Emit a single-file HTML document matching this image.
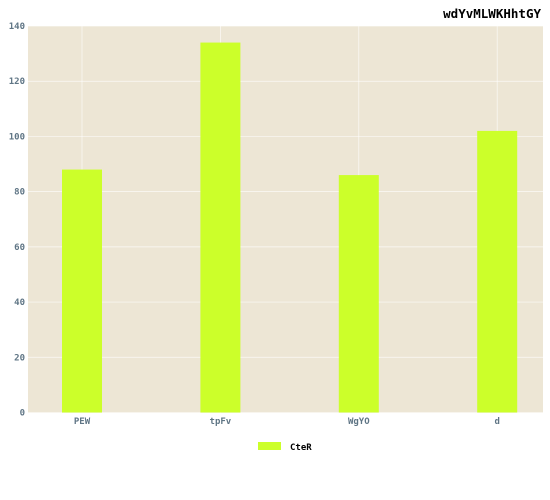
<!DOCTYPE html>
<html><head><meta charset="utf-8"><style>
body{margin:0;background:#fff;}
svg text{font-family:"DejaVu Sans Mono","Liberation Mono",monospace;}
</style></head><body>
<svg width="550" height="495" xmlns="http://www.w3.org/2000/svg">
<text x="541" y="18" text-anchor="end" font-size="12.5" font-weight="bold" fill="#000">wdYvMLWKHhtGY</text>
<rect x="28" y="26" width="515" height="387" fill="#ede6d5"/>
<g id="grid"></g><g id="bars"></g><g id="ticks"></g>
<rect x="258" y="442" width="23" height="8" fill="#ccff2a"/>
<text x="290" y="450" font-size="9" font-weight="bold" fill="#000">CteR</text>
</svg>
<script>
const categories=["PEW","tpFv","WgYO","d"];
const values=[88,134,86,102];
const yTicks=[0,20,40,60,80,100,120,140];
const NS="http://www.w3.org/2000/svg";
const y=v=>412.5-v*(386.5/140);
const x=i=>82+i*138.4;
const g=document.getElementById('grid'),b=document.getElementById('bars'),t=document.getElementById('ticks');
function mk(tag,a,p){const e=document.createElementNS(NS,tag);for(const k in a)e.setAttribute(k,a[k]);p.appendChild(e);return e;}
yTicks.forEach(v=>{
 const l=mk('line',{x1:28,x2:543,y1:y(v),y2:y(v),stroke:'#fff','stroke-width':0.7,opacity:0.8},g);
 
 
 const tx=mk('text',{x:25,y:y(v)+3,'text-anchor':'end','font-size':9,'font-weight':'bold',fill:'#5f7585'},t);
 tx.textContent=v;
 
 
});
categories.forEach((c,i)=>{
 const l=mk('line',{x1:x(i),x2:x(i),y1:26,y2:413,stroke:'#fff','stroke-width':0.7,opacity:0.8},g);
 
 
 const r=mk('rect',{x:x(i)-20,y:y(values[i]),width:40,height:y(0)-y(values[i]),fill:'#ccff2a'},b);
 
 
 const tx=mk('text',{x:x(i),y:424,'text-anchor':'middle','font-size':9,'font-weight':'bold',fill:'#5f7585'},t);
 tx.textContent=c;
 
 
});
</script>
</body></html>
